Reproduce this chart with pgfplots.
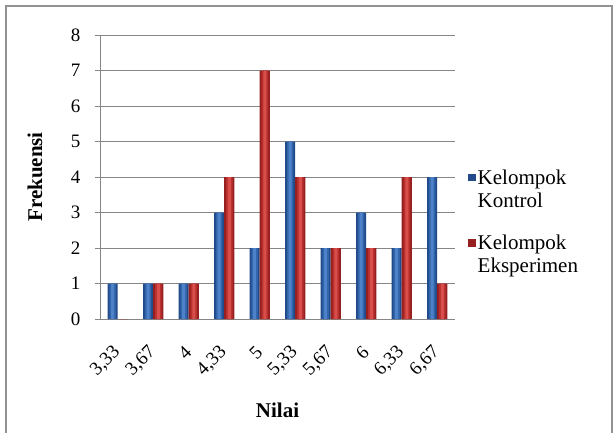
\documentclass[border=0pt]{standalone}
\usepackage{pgfplots}
\pgfplotsset{compat=1.18}
\usepackage{pgfplotstable}
\usepackage{fontspec}
\setmainfont{Liberation Serif}
\definecolor{blueA}{RGB}{32,74,138}
\definecolor{blueB}{RGB}{50,100,170}
\definecolor{blueC}{RGB}{78,130,200}
\definecolor{redA}{RGB}{150,32,32}
\definecolor{redB}{RGB}{185,48,46}
\definecolor{redC}{RGB}{215,78,74}
\definecolor{gridgray}{RGB}{134,134,134}
\pgfplotstableread{
x k e
0 1 0
1 1 1
2 1 1
3 3 4
4 2 7
5 5 4
6 2 2
7 3 2
8 2 4
9 4 1
}\datatable
\begin{document}
\begin{tikzpicture}[x=1pt,y=1pt]
\useasboundingbox (-100,-113) rectangle (516,319);
\begin{axis}[
  at={(0,0)}, anchor=south west,
  scale only axis, width=355pt, height=284pt,
  xmin=-0.5, xmax=9.5, ymin=0, ymax=8,
  xtick={0,...,9},
  xticklabels={{3,33},{3,67},4,{4,33},5,{5,33},{5,67},6,{6,33},{6,67}},
  x tick label style={yshift=-23pt, xshift=2pt, rotate=45, anchor=east},
  ytick={0,...,8},
  ymajorgrids, grid style={gridgray, line width=0.8pt},
  axis x line*=bottom, axis y line*=left,
  axis line style={gridgray, line width=0.8pt},
  x axis line style={-}, y axis line style={-},
  tick align=outside,
  major tick length=5pt,
  xtick style={draw=none}, ytick style={gridgray, line width=0.8pt},
  y tick label style={xshift=-11pt},
  /pgf/number format/assume math mode=true,
  tick label style={font=\fontsize{19}{19}\selectfont},
  xlabel={\textbf{Nilai}}, ylabel={\textbf{Frekuensi}},
  label style={font=\fontsize{21}{21}\selectfont},
  xlabel style={at={(axis description cs:0.5,-0.32)}, anchor=center},
  ylabel style={at={(axis description cs:-0.183,0.5)}, anchor=center},
  legend style={at={(1,0.5)}, anchor=west, xshift=10pt, yshift=-45pt, draw=none, fill=none,
     font=\fontsize{21}{23}\selectfont, row sep=22pt,
     cells={anchor=west, align=left}},
  legend image code/.code={\fill[#1] (0pt,8pt) rectangle (7.5pt,15.5pt);},
  enlarge x limits=false,
]
\addplot[ybar, bar width=10.1pt, bar shift=-5.05pt, draw=none, fill=blueA] table[x=x,y=k]{\datatable};
\addplot[ybar, bar width=10.1pt, bar shift=5.05pt, draw=none, fill=redA] table[x=x,y=e]{\datatable};
\legend{{Kelompok\\Kontrol},{Kelompok\\Eksperimen}}
\addplot[forget plot, ybar, bar width=6.5pt, bar shift=-5.05pt, draw=none, fill=blueB] table[x=x,y=k]{\datatable};
\addplot[forget plot, ybar, bar width=3pt, bar shift=-5.05pt, draw=none, fill=blueC] table[x=x,y=k]{\datatable};
\addplot[forget plot, ybar, bar width=6.5pt, bar shift=5.05pt, draw=none, fill=redB] table[x=x,y=e]{\datatable};
\addplot[forget plot, ybar, bar width=3pt, bar shift=5.05pt, draw=none, fill=redC] table[x=x,y=e]{\datatable};
\end{axis}
\draw[gridgray!90, line width=1.6pt] (-94,-130) rectangle (512,313);
\end{tikzpicture}
\end{document}
